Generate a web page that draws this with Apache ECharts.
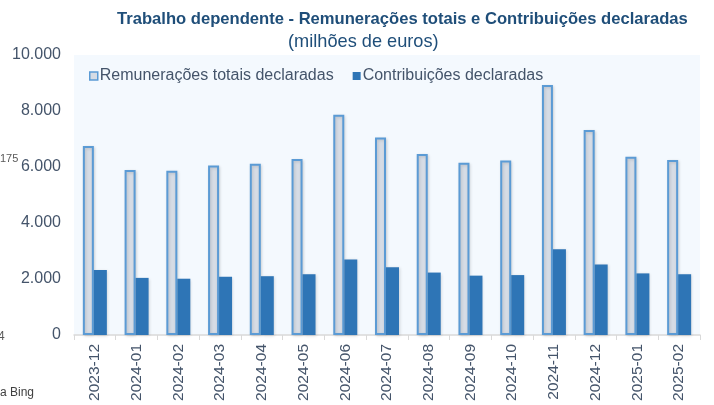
<!DOCTYPE html>
<html>
<head>
<meta charset="utf-8">
<script src="https://cdn.jsdelivr.net/npm/echarts@6/dist/echarts.min.js"></script>
<style>
  html, body { margin: 0; padding: 0; background: #fff; }
  #chart { width: 714px; height: 405px; }
</style>
</head>
<body>
<div id="chart"></div>
<script>
const months = ['2023-12', '2024-01', '2024-02', '2024-03', '2024-04', '2024-05', '2024-06', '2024-07',
  '2024-08', '2024-09', '2024-10', '2024-11', '2024-12', '2025-01', '2025-02']
const remuneracoes = [6750, 5890, 5870, 6050, 6120, 6290, 7870, 7050, 6460, 6150, 6230, 8930, 7320, 6370, 6250]
const contribuicoes = [2320, 2040, 2010, 2080, 2100, 2170, 2700, 2420, 2230, 2120, 2140, 3060, 2520, 2200, 2170]

const fmt = v => v === 0 ? '0' : (v / 1000).toFixed(3)

const chart = echarts.init(document.getElementById('chart'))
chart.setOption({
  backgroundColor: '#fff',
  animation: false,
  textStyle: { fontFamily: 'Liberation Sans, Arial, sans-serif' },
  title: [
    {
      text: 'Trabalho dependente - Remunerações totais e Contribuições declaradas',
      left: 112, top: 6,
      textStyle: { fontSize: 16.6, fontWeight: 'bold', color: '#1f4e79' }
    },
    {
      text: '(milhões de euros)',
      left: 283, top: 28,
      textStyle: { fontSize: 18.2, fontWeight: 'normal', color: '#1f4e79' }
    }
  ],
  legend: {
    left: 84, top: 63,
    itemWidth: 8, itemHeight: 8, itemGap: 19,
    textStyle: { fontSize: 16, color: '#44546a', padding: [0, 0, 0, -3] },
    data: [
      { name: 'Remunerações totais declaradas', icon: 'rect',
        itemStyle: { color: '#d6dce5', borderColor: '#5b9bd5', borderWidth: 1.5 } },
      { name: 'Contribuições declaradas', icon: 'rect', itemStyle: { color: '#2e75b6' } }
    ]
  },
  grid: { left: 74, right: 14, top: 55, bottom: 70, show: true, backgroundColor: '#f4f9fe', borderWidth: 0 },
  xAxis: {
    type: 'category',
    data: months,
    axisLine: { lineStyle: { color: '#d9d9d9', width: 1.5 } },
    axisTick: { show: true, length: 5, lineStyle: { color: '#d9d9d9' } },
    axisLabel: { rotate: 90, fontSize: 15.5, color: '#44546a', margin: 9 }
  },
  yAxis: {
    type: 'value',
    min: 0, max: 10000, interval: 2000,
    axisLine: { show: false },
    axisTick: { show: false },
    splitLine: { show: false },
    axisLabel: { fontSize: 16, color: '#44546a', margin: 13, formatter: fmt }
  },
  series: [
    {
      name: 'Remunerações totais declaradas',
      type: 'bar',
      data: remuneracoes,
      barWidth: 11,
      barGap: '0%',
      itemStyle: { color: '#d6dce5', borderColor: '#5b9bd5', borderWidth: 2,
        shadowColor: 'rgba(0,0,0,0.15)', shadowBlur: 3, shadowOffsetX: 1, shadowOffsetY: 1 }
    },
    {
      name: 'Contribuições declaradas',
      type: 'bar',
      data: contribuicoes,
      barWidth: 13,
      itemStyle: { color: '#2e75b6',
        shadowColor: 'rgba(0,0,0,0.15)', shadowBlur: 3, shadowOffsetX: 1, shadowOffsetY: 1 }
    }
  ],
  graphic: [
    { type: 'text', left: 0, top: 153, style: { text: '175', fontSize: 11, fill: '#595959' } },
    { type: 'text', left: -2, top: 331, style: { text: '4', fontSize: 12, fill: '#595959' } },
    { type: 'text', left: 0, top: 387, style: { text: 'a Bing', fontSize: 12, fill: '#404040' } }
  ]
})
</script>
</body>
</html>
